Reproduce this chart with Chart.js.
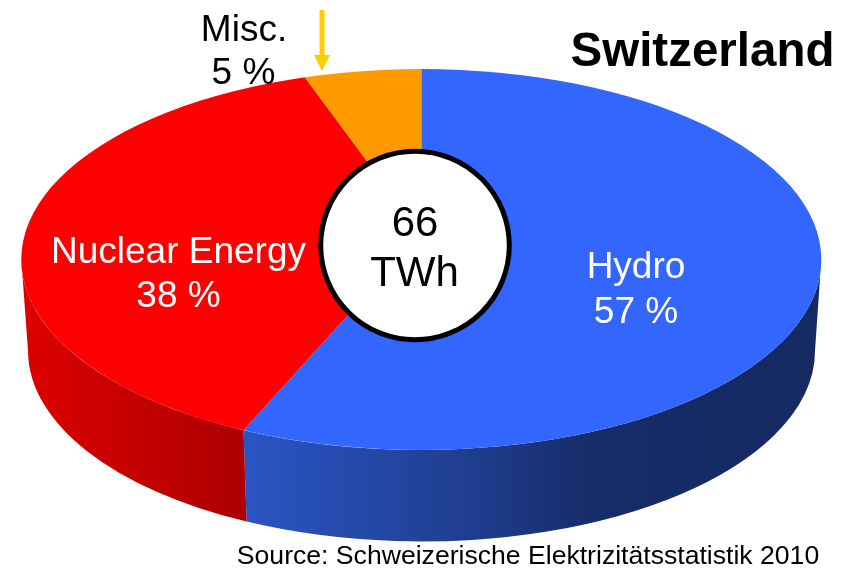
<!DOCTYPE html>
<html>
<head>
<meta charset="utf-8">
<title>Switzerland</title>
<script src="https://cdn.jsdelivr.net/npm/chart.js@4/dist/chart.umd.min.js"></script>
<style>
  html, body { margin: 0; padding: 0; background: #fff; }
  #wrap { position: relative; width: 852px; height: 569px; overflow: hidden; font-family: "Liberation Sans", Arial, sans-serif; }
  canvas { position: absolute; left: 0; top: 0; }
  .txt { position: absolute; transform: translate(-50%, -50%); white-space: nowrap; line-height: 1; }
</style>
</head>
<body>
<div id="wrap">
  <canvas id="chart" width="852" height="569"></canvas>
</div>
<script>
const categories = ["Hydro", "Nuclear Energy", "Misc."];
const shares = [56.5, 38.1, 5.4];
const shareLabels = ["57 %", "38 %", "5 %"];
const topColors = ["#3366ff", "#ff0000", "#ff9900"];

// ellipse of the top face and of the bottom rim
const topFace = { x: 421.3, y: 259.5, rx: 400, ry: 190.5 };
const bottomRim = { x: 421.5, y: 350.5, rx: 393.5, ry: 191 };
// the slices meet above the middle of the ellipse (perspective)
const apex = { x: 421.3, y: 234.5 };
const squash = topFace.ry / topFace.rx;

// horizontal shading of the visible side wall, per slice
const sideStops = [
  [[0, "#2b55c4"], [0.4, "#1f3d8e"], [0.62, "#162c68"], [1, "#152a62"]],
  [[0, "#dc0000"], [1, "#ad0000"]],
  [[0, "#cc7a00"], [1, "#cc7a00"]],
];

const labels = [
  { text: "Switzerland", x: 702.5, y: 50, size: 47.5, color: "#000", bold: true },
  { text: categories[1], x: 178.5, y: 250, size: 37, color: "#fff" },
  { text: shareLabels[1], x: 178.5, y: 294, size: 37, color: "#fff" },
  { text: categories[0], x: 636, y: 265, size: 37, color: "#fff" },
  { text: shareLabels[0], x: 636, y: 310, size: 37, color: "#fff" },
  { text: categories[2], x: 244, y: 28, size: 37, color: "#000" },
  { text: shareLabels[2], x: 243.5, y: 71, size: 37, color: "#000" },
  { text: "66", x: 415, y: 221.5, size: 42, color: "#000" },
  { text: "TWh", x: 414.5, y: 272, size: 42, color: "#000" },
  { text: "Source: Schweizerische Elektrizitätsstatistik 2010", x: 528, y: 555, size: 26.6, color: "#000" },
];

const wrap = document.getElementById("wrap");
labels.forEach(({ text, x, y, size, color, bold }) => {
  const el = document.createElement("div");
  el.className = "txt";
  el.textContent = text;
  el.style.left = x + "px";
  el.style.top = y + "px";
  el.style.fontSize = size + "px";
  el.style.color = color;
  if (bold) el.style.fontWeight = "bold";
  wrap.appendChild(el);
});

// where a slice edge leaving the apex hits the rim, as an angle on the ellipse
const rimAngle = (angle) => {
  const dx = Math.cos(angle) / topFace.rx;
  const dy = (squash * Math.sin(angle)) / topFace.ry;
  const ox = (apex.x - topFace.x) / topFace.rx;
  const oy = (apex.y - topFace.y) / topFace.ry;
  const a = dx * dx + dy * dy;
  const b = 2 * (ox * dx + oy * dy);
  const c = ox * ox + oy * oy - 1;
  const t = (-b + Math.sqrt(b * b - 4 * a * c)) / (2 * a);
  let phi = Math.atan2(oy + t * dy, ox + t * dx);
  if (phi < -Math.PI / 2) phi += Math.PI * 2;
  return phi;
};

const drawSides = (ctx, arcs) => {
  arcs.forEach((arc, i) => {
    const { startAngle, endAngle } = arc.getProps(["startAngle", "endAngle"], true);
    const from = Math.max(rimAngle(startAngle), 0);
    const to = Math.min(rimAngle(endAngle), Math.PI);
    if (to <= from) return;

    const x0 = bottomRim.x + bottomRim.rx * Math.cos(to);
    const x1 = bottomRim.x + bottomRim.rx * Math.cos(from);
    const grad = ctx.createLinearGradient(x0, 0, x1, 0);
    sideStops[i].forEach(([pos, color]) => grad.addColorStop(pos, color));

    ctx.beginPath();
    ctx.ellipse(topFace.x, topFace.y, topFace.rx, topFace.ry, 0, from, to);
    ctx.ellipse(bottomRim.x, bottomRim.y, bottomRim.rx, bottomRim.ry, 0, to, from, true);
    ctx.closePath();
    ctx.fillStyle = grad;
    ctx.fill();
  });
};

const drawCenter = (ctx) => {
  ctx.beginPath();
  ctx.arc(415, 245.5, 94.3, 0, Math.PI * 2);
  ctx.fillStyle = "#fff";
  ctx.fill();
  ctx.lineWidth = 5;
  ctx.strokeStyle = "#000";
  ctx.stroke();
};

const drawArrow = (ctx) => {
  ctx.fillStyle = "#ffcc00";
  ctx.fillRect(319.5, 10, 5, 46);
  ctx.beginPath();
  ctx.moveTo(314, 55);
  ctx.lineTo(330, 55);
  ctx.lineTo(322, 71);
  ctx.closePath();
  ctx.fill();
};

const tiltPlugin = {
  id: "tilt",
  beforeDatasetsDraw(chart) {
    const { ctx } = chart;
    const arcs = chart.getDatasetMeta(0).data;
    drawSides(ctx, arcs);

    // cut an oversized pie down to the top face, then squash it
    ctx.save();
    ctx.beginPath();
    ctx.ellipse(topFace.x, topFace.y, topFace.rx, topFace.ry, 0, 0, Math.PI * 2);
    ctx.clip();
    ctx.translate(apex.x, apex.y);
    ctx.scale(1, squash);
    ctx.translate(-arcs[0].x, -arcs[0].y);
  },
  afterDatasetsDraw(chart) {
    const { ctx } = chart;
    ctx.restore();
    drawCenter(ctx);
    drawArrow(ctx);
  },
};

new Chart(document.getElementById("chart"), {
  type: "pie",
  data: {
    labels: categories,
    datasets: [{ data: shares, backgroundColor: topColors, borderWidth: 0 }],
  },
  options: {
    responsive: false,
    animation: false,
    radius: 520,
    layout: { padding: 0 },
    plugins: { legend: { display: false }, tooltip: { enabled: false } },
  },
  plugins: [tiltPlugin],
});
</script>
</body>
</html>
